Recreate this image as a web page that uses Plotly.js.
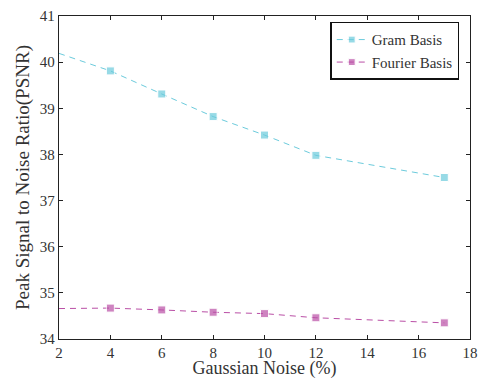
<!DOCTYPE html>
<html>
<head>
<meta charset="utf-8">
<script src="https://cdn.plot.ly/plotly-3.0.1.min.js"></script>
<style>
html,body{margin:0;padding:0;background:#fff;}
#chart{width:485px;height:379px;}
</style>
</head>
<body>
<div id="chart"></div>
<script>
var noiseLevels = [2, 4, 6, 8, 10, 12, 17];
var gramPSNR = [40.19, 39.81, 39.31, 38.82, 38.42, 37.98, 37.50];
var fourierPSNR = [34.66, 34.67, 34.63, 34.58, 34.55, 34.46, 34.35];
var markerSizes = [0, 8, 8, 8, 8, 8, 8];
var xTicks = [2, 4, 6, 8, 10, 12, 14, 16, 18];
var yTicks = [34, 35, 36, 37, 38, 39, 40, 41];

var font = "Liberation Serif";
var traces = [
  {x: noiseLevels, y: gramPSNR, name: "Gram Basis", mode: "lines+markers",
   line: {color: "#6ccbdc", width: 1, dash: "6px,5px"},
   marker: {symbol: "square", size: markerSizes, color: "#6ccbdc"}},
  {x: noiseLevels, y: fourierPSNR, name: "Fourier Basis", mode: "lines+markers",
   line: {color: "#ba4fa6", width: 1, dash: "6px,5px"},
   marker: {symbol: "square", size: markerSizes, color: "#ba4fa6"}}
];
function axisBase() {
  return {
    ticks: "inside", ticklen: 4, tickcolor: "#222", mirror: "ticks",
    showline: true, linecolor: "#222", linewidth: 1.2, showgrid: false, zeroline: false,
    tickfont: {family: font, size: 15, color: "#333"}
  };
}
var layout = {
  width: 485, height: 379,
  margin: {l: 59, r: 15, t: 16, b: 40},
  paper_bgcolor: "#fff", plot_bgcolor: "#fff",
  font: {family: font, color: "#333"},
  showlegend: true,
  legend: {x: 0.66, y: 0.982, xanchor: "left", yanchor: "top",
    bordercolor: "#111", borderwidth: 1.5, bgcolor: "#fff",
    font: {family: font, size: 15, color: "#333"}, tracegroupgap: 0},
  xaxis: Object.assign(axisBase(), {range: [2, 18], tickvals: xTicks,
    title: {text: "Gaussian Noise (%)", font: {family: font, size: 18, color: "#333"}, standoff: 11}}),
  yaxis: Object.assign(axisBase(), {range: [34, 41], tickvals: yTicks,
    title: {text: "Peak Signal to Noise Ratio(PSNR)", font: {family: font, size: 19, color: "#333"}, standoff: 5}})
};
function draw() {
  return Plotly.newPlot("chart", traces, layout, {displayModeBar: false, staticPlot: true});
}
var loads = (document.fonts && document.fonts.load)
  ? Promise.all([document.fonts.load('15px "Liberation Serif"'), document.fonts.load('19px "Liberation Serif"')])
  : Promise.resolve();
loads.then(draw, draw).then(function () {
  var gd = document.getElementById("chart");
  return Plotly.relayout(gd, {"legend.font.size": 15});
});
</script>
</body>
</html>
